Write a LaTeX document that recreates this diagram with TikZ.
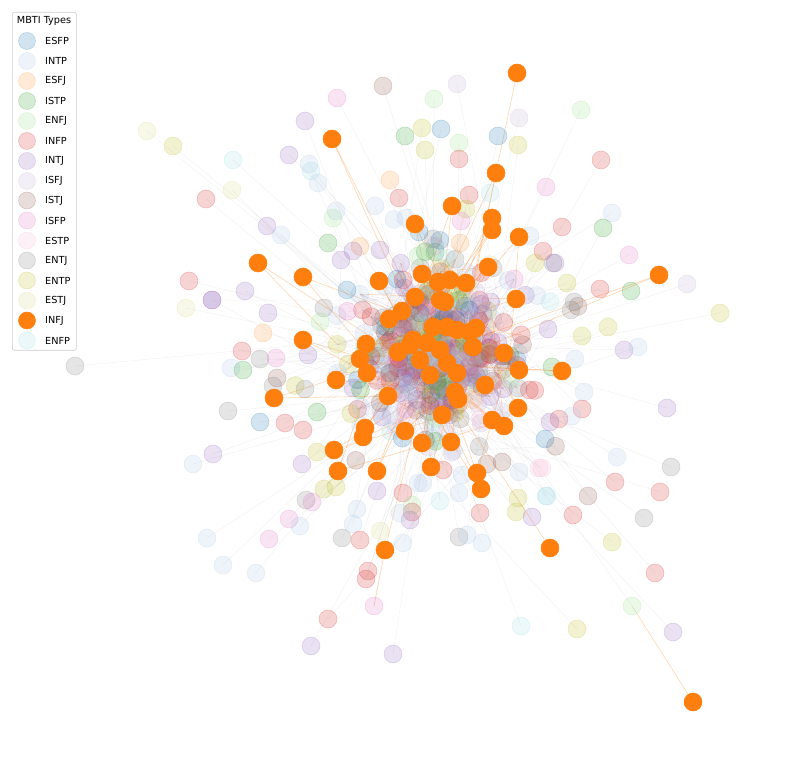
\documentclass[tikz,border=0pt]{standalone}
\usepackage{fontspec}
\setmainfont{DejaVu Sans}
\definecolor{ESFP}{HTML}{1F77B4}
\definecolor{INTP}{HTML}{AEC7E8}
\definecolor{ESFJ}{HTML}{FF9A40}
\definecolor{ISTP}{HTML}{2CA02C}
\definecolor{ENFJ}{HTML}{98DF8A}
\definecolor{INFP}{HTML}{D62728}
\definecolor{INTJ}{HTML}{9467BD}
\definecolor{ISFJ}{HTML}{C5B0D5}
\definecolor{ISTJ}{HTML}{8C564B}
\definecolor{ISFP}{HTML}{E377C2}
\definecolor{ESTP}{HTML}{F7B6D2}
\definecolor{ENTJ}{HTML}{7F7F7F}
\definecolor{ENTP}{HTML}{BCBD22}
\definecolor{ESTJ}{HTML}{DBDB8D}
\definecolor{INFJ}{HTML}{FF7F0E}
\definecolor{ENFP}{HTML}{9EDAE5}
\pgfdeclarelayer{edges}
\pgfsetlayers{edges,main}
\tikzset{
  nd/.style={circle,inner sep=0pt,minimum size=18pt,fill=#1,draw=#1,fill opacity=0.2,draw opacity=0.28,line width=0.5pt},
  inf/.style={circle,inner sep=0pt,minimum size=18pt,fill=INFJ,draw=INFJ,line width=0.5pt},
  eg/.style={draw=gray,draw opacity=0.1,line width=0.5pt},
  ec/.style={draw=INTJ!60!gray,draw opacity=0.12,line width=0.5pt},
  eo/.style={draw=INFJ,draw opacity=0.32,line width=0.6pt},
  lgtext/.style={anchor=west,inner sep=0pt,font=\fontsize{9.7}{11}\selectfont},
  lgbox/.style={draw=black!20,fill=white,fill opacity=0.8,rounded corners=2pt,line width=0.6pt}
}
\pgfmathdeclarerandomlist{types}{{INFP}{INFP}{INFP}{INFP}{INTP}{INTP}{INTP}{INTP}{INTJ}{INTJ}{INTJ}{INTJ}{ENTP}{ENTP}{ENFP}{ENFP}{ISTP}{ISFJ}{ENFJ}{ISTJ}{ENTJ}{ENTJ}{ESFP}{ESFJ}{ISFP}{ESTP}{ESTJ}{ENTP}{ISFJ}{ISTP}}
\begin{document}
\begin{tikzpicture}[x=1pt,y=-1pt]
\useasboundingbox (0,0) rectangle (795,775);
\pgfmathsetseed{11}
% dense core
\foreach \i in {1,...,300}{
  \pgfmathsetmacro\uu{rnd*0.97+0.02}
  \pgfmathsetmacro\vv{rnd*360}
  \pgfmathsetmacro\rr{37*sqrt(-2*ln(\uu))}
  \pgfmathsetmacro\xx{438+1.05*\rr*cos(\vv)}
  \pgfmathsetmacro\yy{352+\rr*sin(\vv)}
  \pgfmathrandomitem{\ty}{types}
  \node[nd=\ty] (c\i) at (\xx,\yy) {};
}
% ring
\foreach \i in {1,...,60}{
  \pgfmathsetmacro\uu{rnd*0.9+0.08}
  \pgfmathsetmacro\vv{rnd*360}
  \pgfmathsetmacro\rr{70*sqrt(-2*ln(\uu))}
  \pgfmathsetmacro\xx{438+\rr*cos(\vv)}
  \pgfmathsetmacro\yy{352+\rr*sin(\vv)}
  \pgfmathrandomitem{\ty}{types}
  \node[nd=\ty] (r\i) at (\xx,\yy) {};
}
% peripheral nodes
\foreach \ty/\x/\y [count=\k] in {
ESTJ/147/131, ENTP/173/146, ENFP/233/160, ESTJ/232/190, INFP/206/199, INTJ/305/121, INTJ/289/155, INTP/309/164, ENFP/311/171, INTP/318/183, INTJ/267/226, INTP/281/235, INFP/189/281, INTJ/245/291, INTJ/212/300,
ISFP/337/98, ISTJ/383/86, ISFJ/457/84, ENFJ/434/99, ISFJ/519/118, ENTP/422/128, ESFP/441/129, ISTP/405/136, ESFP/498/136, ENTP/425/150, ENTP/518/145, ENFJ/459/143, INFP/459/159, ESFJ/390/180, ISFP/546/187, INFP/399/198, INFP/469/195, ENFP/490/193, INTP/375/206, ENTP/466/209, ISFP/461/221, INTP/336/211, ENFJ/333/218, INTP/406/218, ESFP/419/232, ENTJ/433/239, ISTP/328/243, INTJ/353/251, INTJ/341/260, INTJ/380/250, INTP/530/236, ESFJ/460/243, ENTP/535/263, ENTJ/553/263, INFP/562/227,
ENFJ/581/110, INFP/601/160, INTP/612/213, ISTP/603/228, ISFP/629/255, INTJ/555/263, ISFJ/687/284, ENTP/567/283, INFP/600/289, ISTP/631/291, ENTJ/574/302, ENTJ/571/310, ENTP/720/313,
ESTJ/186/308, INTJ/212/300, INTJ/268/313, ESFJ/263/333, INFP/242/351, ENTJ/260/359, ISFP/276/358, INTJ/308/355, ENTJ/75/366, INTP/231/368, ISTP/243/370, ISTJ/277/378, ENTJ/273/386, ENTJ/305/389, ENTJ/228/411, ESFP/260/422, INFP/285/423, INFP/303/430, ISTP/317/412, INTJ/213/454, INTP/193/464, INTJ/302/464, ENTP/317/452, ENFJ/320/322, ESFP/347/290,
ENTP/608/327, ENTP/582/336, INTJ/548/329, INTJ/624/350, INTP/638/347, INTP/575/359, ISTP/552/367, INTP/584/392, INFP/582/409, INTJ/667/408, INFP/559/419, INTP/572/416, INTJ/550/422, ESFP/545/439, INTP/617/457, ENTJ/671/467, INFP/615/482, INFP/660/492, ISTJ/588/496, ENFP/547/496, INFP/573/515, ENTJ/644/518, ESTP/542/468,
INTP/207/538, INTP/223/565, INTP/256/573, ISFP/269/539, ISFP/289/519, INTP/300/526, ENTJ/306/500, ISFP/312/502, ENTP/324/489, ENTP/336/487, INTP/357/509, INTP/353/524, ENTJ/342/538, INFP/360/540, ESTJ/380/531, INTP/403/543, INFP/368/571, INFP/366/579, INFP/328/619, INTJ/311/646, INTJ/393/654, INTJ/377/491, INFP/403/493, ENFJ/412/505, INFP/412/512, INTJ/410/520, INTP/400/513, INTP/418/483,
INFP/443/470, ISTJ/487/464, ISTJ/502/462, INTP/519/472, ESTP/539/468, INTP/462/475, INTP/423/483, INTP/459/493, ENFP/440/501, INFP/480/513, ENTP/518/498, ENTP/516/512, INTJ/532/517, ENFP/546/496, ENTJ/459/537, INTP/467/535, INTP/482/543, ENTP/612/542, INFP/655/573, ENFP/521/626, ENTP/577/629, INTJ/673/632}{
  \node[nd=\ty] (p\k) at (\x,\y) {};
  \xdef\np{\k}
}
\node[nd=ENFJ] (penfj) at (632,606) {};
\node[nd=ISFP] (pisfp) at (374,606) {};
% INFJ nodes
\foreach \x/\y [count=\k] in {
332/139, 496/173, 452/206, 492/218, 492/230, 519/237, 415/224, 258/263, 303/277, 379/281, 422/274, 438/282, 450/280, 466/283, 488/267, 516/299, 659/275, 445/302, 415/297, 389/319, 402/311, 303/340, 476/328, 366/344, 504/353, 360/359, 367/373, 336/380, 519/370, 562/371, 274/398, 388/396, 458/399, 442/415, 518/408, 492/420, 504/426, 365/428, 363/437, 405/431, 451/442, 422/443, 334/450, 338/471, 377/471, 431/467, 477/473, 481/489,
413/340, 427/343, 447/327, 457/330, 447/363, 457/373, 433/327, 473/347, 410/345, 440/350, 470/332, 430/375, 455/392, 420/360, 398/352, 485/385, 440/300}{
  \node[inf] (o\k) at (\x,\y) {};
  \xdef\no{\k}
}
\node[inf] (otop) at (517,73) {};
\node[inf] (obl) at (385,550) {};
\node[inf] (obr) at (550,548) {};
\node[inf] (ofar) at (693,702) {};
% edges
\begin{pgfonlayer}{edges}
\foreach \i in {1,...,900}{
  \pgfmathrandominteger{\a}{1}{300}
  \pgfmathrandominteger{\b}{1}{300}
  \draw[ec] (c\a.center) -- (c\b.center);
}
\foreach \i in {1,...,60}{
  \pgfmathrandominteger{\a}{1}{300}
  \draw[eg] (r\i.center) -- (c\a.center);
}
\foreach \k in {1,...,\np}{
  \pgfmathrandominteger{\a}{1}{300}
  \draw[eg] (p\k.center) -- (c\a.center);
}
\foreach \k in {1,...,\no}{
  \pgfmathrandominteger{\a}{1}{300}
  \pgfmathrandominteger{\b}{1}{300}
  \draw[eo] (o\k.center) -- (c\a.center);
  \draw[eo] (o\k.center) -- (c\b.center);
}
\draw[eg] (penfj.center) -- (c5.center);
\draw[eo] (ofar.center) -- (penfj.center);
\draw[eo] (otop.center) -- (c17.center);
\draw[eo] (obl.center) -- (pisfp.center);
\draw[eo] (obl.center) -- (c40.center);
\draw[eo] (obr.center) -- (c61.center);
\draw[eg] (pisfp.center) -- (c90.center);
\end{pgfonlayer}
% legend
\node[lgbox,minimum width=64pt,minimum height=338pt,anchor=north west,inner sep=0pt] (lg) at (12,12) {};
\node[inner sep=0pt,font=\fontsize{9.7}{11}\selectfont] (lgt) at (44,20.5) {MBTI Types};
\foreach \ty/\y [count=\k] in {ESFP/41, INTP/61, ESFJ/81, ISTP/101, ENFJ/121, INFP/141, INTJ/161, ISFJ/181, ISTJ/200.5, ISFP/220.5, ESTP/240.5, ENTJ/260.5, ENTP/280.5, ESTJ/300.5, ENFP/340.5}{
  \node[nd=\ty,minimum size=17pt] (lm\k) at (27,\y) {};
  \node[lgtext] (ll\k) at (45,\y) {\ty};
}
\node[inf,minimum size=17pt] (lmi) at (27,320.5) {};
\node[lgtext] (lli) at (45,320.5) {INFJ};
\end{tikzpicture}
\end{document}
